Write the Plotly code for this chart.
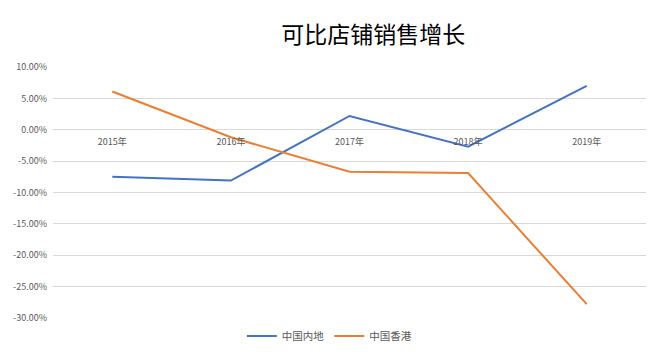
import plotly.graph_objects as go

years = ["2015年", "2016年", "2017年", "2018年", "2019年"]
mainland = [-0.075, -0.081, 0.022, -0.027, 0.070]
hongkong = [0.061, -0.012, -0.067, -0.069, -0.278]
y_ticks = [0.10, 0.05, 0.0, -0.05, -0.10, -0.15, -0.20, -0.25, -0.30]
y_tick_labels = ["10.00%", "5.00%", "0.00%", "-5.00%", "-10.00%", "-15.00%", "-20.00%", "-25.00%", "-30.00%"]

font_family = "Noto Sans CJK SC, Noto Sans, sans-serif"

fig = go.Figure()
fig.add_trace(go.Scatter(x=years, y=mainland, mode="lines", name="中国内地",
                         line=dict(color="#4472C4", width=2)))
fig.add_trace(go.Scatter(x=years, y=hongkong, mode="lines", name="中国香港",
                         line=dict(color="#ED7D31", width=2)))

# page body has an 8px default margin; the figure is sized to fit the window
fig.update_layout(
    width=664, height=350,
    margin=dict(l=45, r=26, t=59, b=40, autoexpand=False),
    paper_bgcolor="white", plot_bgcolor="white",
    font=dict(family=font_family, color="#595959", size=10),
    title=dict(text="可比店铺销售增长", x=0.55, xanchor="center", y=0.923, yanchor="middle",
               font=dict(size=23, color="#000000", family=font_family)),
    showlegend=True,
    legend=dict(orientation="h", x=0.466, xanchor="center", y=-0.072, yanchor="middle",
                font=dict(size=10.5, color="#595959")),
    xaxis=dict(type="category", range=[-0.5, 4.5], showgrid=False, zeroline=False,
               showline=False, ticks="", anchor="free", position=0.75,
               ticklabelstandoff=5,
               tickfont=dict(size=9, color="#595959")),
    yaxis=dict(range=[-0.30, 0.10], tickvals=y_ticks, ticktext=y_tick_labels,
               showgrid=True, gridcolor="#D9D9D9", gridwidth=1, zeroline=False,
               showline=False, ticks="", ticklabelstandoff=5,
               tickfont=dict(size=9, color="#595959")),
)

fig.write_html("out.html")
